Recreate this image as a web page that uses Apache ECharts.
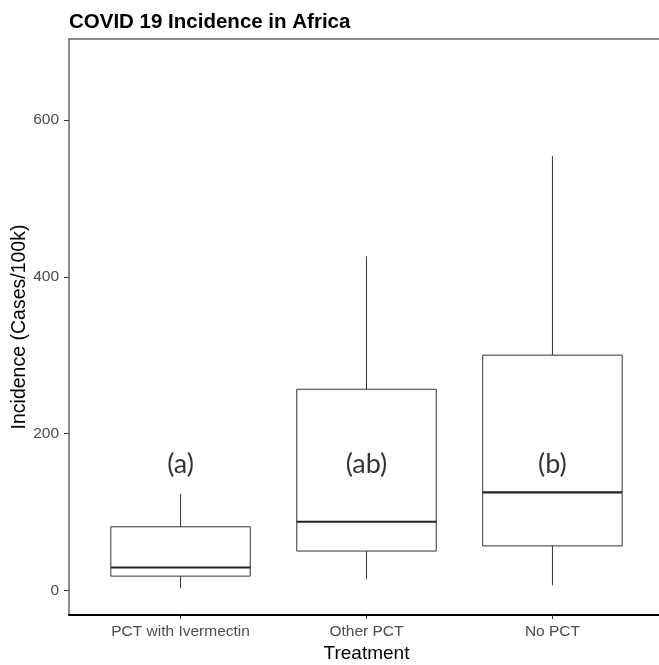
<!DOCTYPE html>
<html>
<head>
<meta charset="utf-8">
<script src="https://cdn.jsdelivr.net/npm/echarts@6/dist/echarts.min.js"></script>
<style>html,body{margin:0;padding:0;background:#fff;}#c{width:659px;height:665px;}</style>
</head>
<body>
<div id="c"></div>
<script>
const categories = ['PCT with Ivermectin', 'Other PCT', 'No PCT'];
const positions = [1, 2, 3];
const whiskerLow = [2.6, 14, 6.4];
const q1 = [18, 50, 56.6];
const median = [29, 87.4, 124.8];
const q3 = [81, 256.5, 300];
const whiskerHigh = [123, 426, 554];
const groupLabels = ['(a)', '(ab)', '(b)'];
const labelY = [161, 161, 161];
const yTicks = [0, 200, 400, 600];

const boxData = positions.map((p, i) => [p, whiskerLow[i], q1[i], median[i], q3[i], whiskerHigh[i]]);
const labelData = positions.map((p, i) => ({ value: [p, labelY[i]], name: groupLabels[i] }));

const chart = echarts.init(document.getElementById('c'), null, { renderer: 'canvas' });
const tickColor = '#4d4d4d';
chart.setOption({
  animation: false,
  backgroundColor: '#ffffff',
  title: {
    text: 'COVID 19 Incidence in Africa',
    left: 64, top: 7,
    textStyle: { fontFamily: 'Liberation Sans, Arial, sans-serif', fontWeight: 'bold', fontSize: 20.5, color: '#000' }
  },
  grid: { left: 69, right: -5, top: 39, bottom: 50, containLabel: false, outerBoundsMode: 'none' },
  xAxis: [{
    type: 'value', min: 0.4, max: 3.6,
    position: 'bottom',
    name: 'Treatment', nameLocation: 'middle', nameGap: 29, nameMoveOverlap: false,
    nameTextStyle: { fontFamily: 'Liberation Sans, Arial, sans-serif', fontSize: 19, color: '#000', verticalAlign: 'top' },
    axisLine: { show: true, onZero: false, lineStyle: { color: '#000', width: 2 } },
    axisTick: { show: true, customValues: positions, length: 4, lineStyle: { color: '#333', width: 1 } },
    axisLabel: {
      show: true, customValues: positions, margin: 9,
      formatter: v => categories[Math.round(v) - 1] || '',
      fontFamily: 'Liberation Sans, Arial, sans-serif', fontSize: 15.5, color: tickColor
    },
    splitLine: { show: false }
  }, {
    type: 'value', min: 0.4, max: 3.6, position: 'top',
    axisLine: { show: true, onZero: false, lineStyle: { color: '#666', width: 1.5 } },
    axisTick: { show: false }, axisLabel: { show: false }, splitLine: { show: false }
  }],
  yAxis: {
    type: 'value', min: -31.6, max: 703.5,
    name: 'Incidence (Cases/100k)', nameLocation: 'middle', nameGap: 39, nameRotate: 90, nameMoveOverlap: false,
    nameTextStyle: { fontFamily: 'Liberation Sans, Arial, sans-serif', fontSize: 19.5, color: '#000' },
    axisLine: { show: true, onZero: false, lineStyle: { color: '#666', width: 1.5 } },
    axisTick: { show: true, customValues: yTicks, length: 5, lineStyle: { color: '#333', width: 1 } },
    axisLabel: {
      show: true, customValues: yTicks, margin: 10,
      fontFamily: 'Liberation Sans, Arial, sans-serif', fontSize: 15.5, color: tickColor
    },
    splitLine: { show: false }
  },
  series: [{
    type: 'custom',
    xAxisIndex: 0,
    data: boxData,
    encode: { x: 0, y: [1, 2, 3, 4, 5] },
    renderItem: function (params, api) {
      const x = api.value(0);
      const pLo = api.coord([x, api.value(1)]);
      const pQ1 = api.coord([x, api.value(2)]);
      const pMed = api.coord([x, api.value(3)]);
      const pQ3 = api.coord([x, api.value(4)]);
      const pHi = api.coord([x, api.value(5)]);
      const hw = api.size([0.75, 0])[0] / 2;
      const cx = pMed[0];
      const lineStyle = { stroke: '#333', lineWidth: 1 };
      return {
        type: 'group',
        children: [
          { type: 'line', shape: { x1: cx, y1: pLo[1], x2: cx, y2: pQ1[1] }, style: lineStyle },
          { type: 'line', shape: { x1: cx, y1: pQ3[1], x2: cx, y2: pHi[1] }, style: lineStyle },
          { type: 'rect', shape: { x: cx - hw, y: pQ3[1], width: hw * 2, height: pQ1[1] - pQ3[1] },
            style: { fill: '#fff', stroke: '#333', lineWidth: 1 } },
          { type: 'line', shape: { x1: cx - hw, y1: pMed[1], x2: cx + hw, y2: pMed[1] },
            style: { stroke: '#222', lineWidth: 2.2 } }
        ]
      };
    }
  }, {
    type: 'scatter',
    xAxisIndex: 0,
    data: labelData,
    symbolSize: 0,
    z: 5,
    label: {
      show: true, position: 'inside',
      formatter: p => p.name,
      fontFamily: 'Lato, Open Sans, sans-serif', fontSize: 27, color: '#000'
    }
  }]
});
</script>
</body>
</html>
